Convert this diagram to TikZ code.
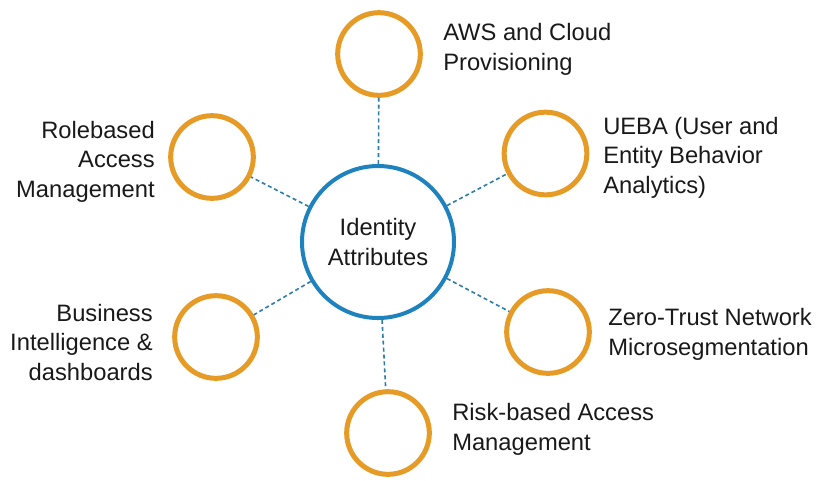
\documentclass[tikz,border=0pt]{standalone}
\usepackage{fontspec}
\setmainfont{Liberation Sans}
\definecolor{ringorange}{RGB}{230,155,38}
\definecolor{ringblue}{RGB}{30,130,190}
\definecolor{linkblue}{RGB}{45,125,170}
\begin{document}
\begin{tikzpicture}[x=0.75pt,y=-0.75pt,
  lbl/.style={font=\fontsize{17.8}{22}\selectfont, inner sep=0pt, text=black!90},
  hub/.style={circle, draw=ringblue, line width=3pt, fill=white, minimum size=114pt, inner sep=0pt, align=center, font=\fontsize{17.8}{22.5}\selectfont, text=black!90},
  spoke/.style={circle, draw=ringorange, line width=3.75pt, fill=white, minimum size=62pt, inner sep=0pt},
  link/.style={draw=linkblue, line width=1.2pt, dash pattern=on 3pt off 2.2pt}]
\useasboundingbox (0,0) rectangle (816,480);
\node[hub] (hub) at (378,242) {Identity\\Attributes};
\node[spoke] (top) at (379,54) {};
\node[spoke] (ur) at (545.5,153.5) {};
\node[spoke] (ul) at (212,157) {};
\node[spoke] (ll) at (216,337) {};
\node[spoke] (lr) at (548,332) {};
\node[spoke] (bot) at (388,433) {};
\foreach \s in {top,ur,ul,ll,lr,bot} \draw[link] (hub) -- (\s);
\node[lbl, anchor=base west, align=left] (taws) at (443,70) {AWS and Cloud\\Provisioning};
\node[lbl, anchor=base west, align=left] (tueba) at (603,193) {UEBA (User and\\Entity Behavior\\Analytics)};
\node[lbl, anchor=base east, align=right] (trole) at (155,197) {Rolebased\\Access\\Management};
\node[lbl, anchor=base east, align=right] (tbi) at (153,380) {Business\\Intelligence \&\\dashboards};
\node[lbl, anchor=base west, align=left] (tzt) at (608,355) {Zero-Trust Network\\Microsegmentation};
\node[lbl, anchor=base west, align=left] (trisk) at (452,450) {Risk-based Access\\Management};
\end{tikzpicture}
\end{document}
